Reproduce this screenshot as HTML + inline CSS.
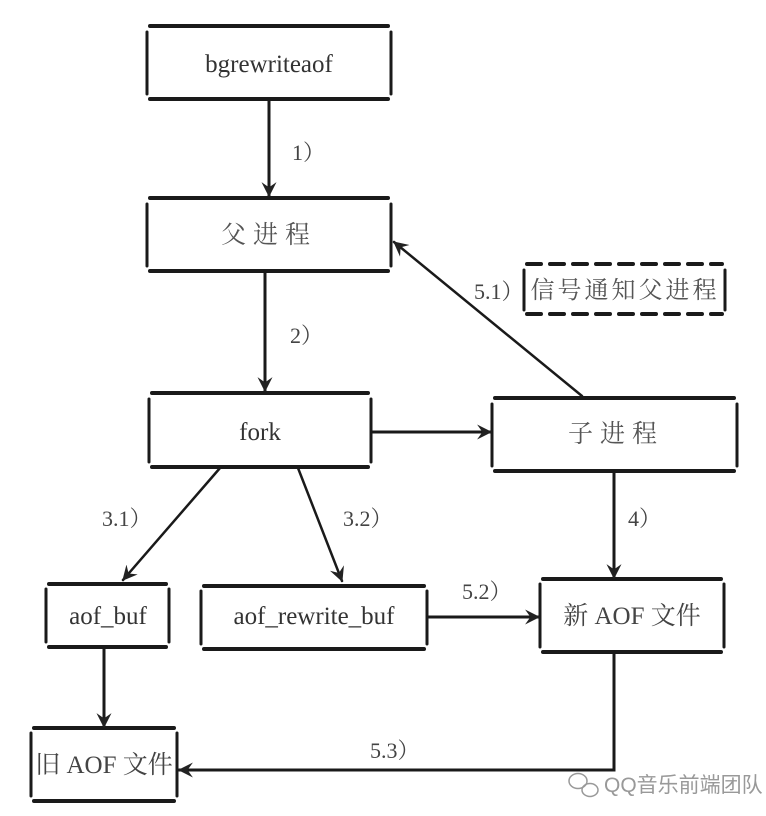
<!DOCTYPE html>
<html><head><meta charset="utf-8"><style>
html,body{margin:0;padding:0;background:#fff;}
svg{display:block;}
text{font-family:"Liberation Serif","Noto Serif CJK SC",serif;}
</style></head><body>
<svg width="766" height="816" viewBox="0 0 766 816" xmlns="http://www.w3.org/2000/svg">
<defs>
<marker id="a" viewBox="0 0 14 14" refX="13" refY="7" markerWidth="15" markerHeight="15" markerUnits="userSpaceOnUse" orient="auto">
<path d="M0,0 L14,7 L0,14 L5,7 z" fill="#222"/>
</marker>
</defs>
<g stroke="#1a1a1a" fill="none" stroke-linecap="round">
<g stroke-width="4">
<line x1="150" y1="26" x2="388" y2="26"/><line x1="150" y1="99" x2="388" y2="99"/>
<line x1="150" y1="198" x2="388" y2="198"/><line x1="150" y1="271" x2="388" y2="271"/>
<line x1="152" y1="393" x2="368" y2="393"/><line x1="152" y1="467" x2="368" y2="467"/>
<line x1="495" y1="398" x2="734" y2="398"/><line x1="495" y1="471" x2="734" y2="471"/>
<line x1="49" y1="584" x2="166" y2="584"/><line x1="49" y1="647" x2="166" y2="647"/>
<line x1="204" y1="586" x2="424" y2="586"/><line x1="204" y1="649" x2="424" y2="649"/>
<line x1="543" y1="579" x2="721" y2="579"/><line x1="543" y1="652" x2="721" y2="652"/>
<line x1="34" y1="728" x2="174" y2="728"/><line x1="34" y1="801" x2="174" y2="801"/>
</g>
<g stroke-width="3">
<line x1="147" y1="32" x2="147" y2="94"/><line x1="391" y1="32" x2="391" y2="94"/>
<line x1="147" y1="204" x2="147" y2="266"/><line x1="391" y1="204" x2="391" y2="266"/>
<line x1="149" y1="399" x2="149" y2="462"/><line x1="371" y1="399" x2="371" y2="462"/>
<line x1="492" y1="404" x2="492" y2="466"/><line x1="737" y1="404" x2="737" y2="466"/>
<line x1="46" y1="589" x2="46" y2="642"/><line x1="169" y1="589" x2="169" y2="642"/>
<line x1="201" y1="591" x2="201" y2="644"/><line x1="427" y1="591" x2="427" y2="644"/>
<line x1="540" y1="584" x2="540" y2="647"/><line x1="724" y1="584" x2="724" y2="647"/>
<line x1="31" y1="733" x2="31" y2="796"/><line x1="177" y1="733" x2="177" y2="796"/>
</g>
<g stroke-width="4" stroke-dasharray="14 9">
<line x1="527" y1="264" x2="722" y2="264"/><line x1="527" y1="314" x2="722" y2="314"/>
</g>
<g stroke-width="3">
<line x1="524" y1="270" x2="524" y2="310"/><line x1="725" y1="270" x2="725" y2="310"/>
</g>
<g stroke-width="3">
<line x1="269" y1="100" x2="269" y2="196" marker-end="url(#a)"/>
<line x1="265" y1="272" x2="265" y2="391" marker-end="url(#a)"/>
<line x1="372" y1="432" x2="491" y2="432" marker-end="url(#a)"/>
<line x1="614" y1="472" x2="614" y2="578" marker-end="url(#a)"/>
<line x1="104" y1="648" x2="104" y2="727" marker-end="url(#a)"/>
<line x1="428" y1="617" x2="539" y2="617" marker-end="url(#a)"/>
<polyline points="614,653 614,770 179,770" marker-end="url(#a)"/>
</g>
<g stroke-width="2.5">
<line x1="582" y1="396" x2="394" y2="242" marker-end="url(#a)"/>
<line x1="220" y1="468" x2="123" y2="580" marker-end="url(#a)"/>
<line x1="298" y1="468" x2="342" y2="581" marker-end="url(#a)"/>
</g>
</g>
<g font-size="25" fill="#333" text-anchor="middle">
<text x="269" y="72">bgrewriteaof</text>
<text x="269" y="243" fill="#555" letter-spacing="7">父进程</text>
<text x="260" y="440">fork</text>
<text x="616" y="442" fill="#555" letter-spacing="7">子进程</text>
<text x="108" y="624">aof_buf</text>
<text x="314" y="624">aof_rewrite_buf</text>
<text x="632" y="624" fill="#444">新 AOF 文件</text>
<text x="104" y="773" fill="#444">旧 AOF 文件</text>
<text x="625" y="298" fill="#555" font-size="24" letter-spacing="3">信号通知父进程</text>
</g>
<g font-size="22" fill="#444">
<text x="292" y="160">1）</text>
<text x="290" y="343">2）</text>
<text x="474" y="299">5.1）</text>
<text x="102" y="526">3.1）</text>
<text x="343" y="526">3.2）</text>
<text x="628" y="526">4）</text>
<text x="462" y="599">5.2）</text>
<text x="370" y="758">5.3）</text>
</g>
<g stroke="#999" stroke-width="1.5" fill="none">
<ellipse cx="578" cy="781" rx="9" ry="7.5"/>
<ellipse cx="590" cy="790" rx="8" ry="6.5"/>
</g>
<text x="604" y="792" font-size="21" fill="#999" style="font-family:'Liberation Sans','Noto Sans CJK SC',sans-serif">QQ音乐前端团队</text>
</svg>
</body></html>
